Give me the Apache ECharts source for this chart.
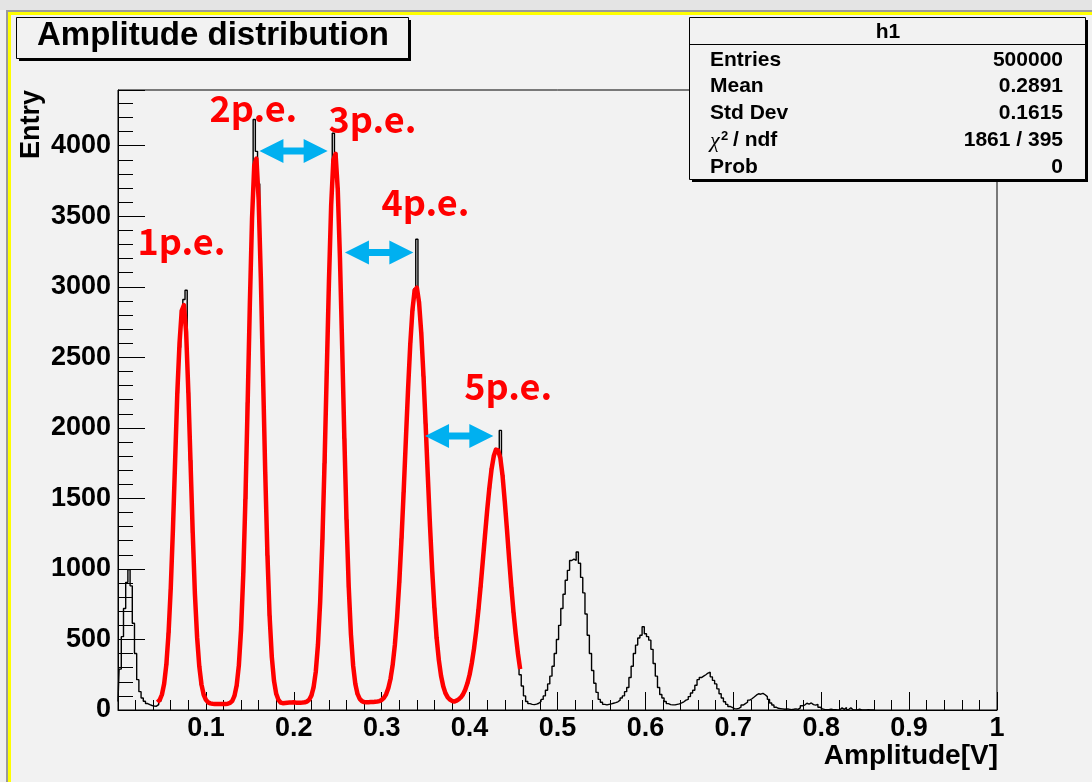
<!DOCTYPE html>
<html>
<head>
<meta charset="utf-8">
<script src="https://cdn.jsdelivr.net/npm/echarts@6/dist/echarts.min.js"></script>
<style>
  html, body { margin: 0; padding: 0; background: #f2f2f2; }
  #chart { width: 1092px; height: 782px; }
</style>
</head>
<body>
<div id="chart"></div>
<script>
// Histogram h1: counts per bin, bins of 0.0025 V starting at 0 V
const binWidth = 0.0025;
const entryCounts = [
  60, 290, 520, 720, 905, 995, 880, 615, 400, 215, 130, 85, 62, 46, 38, 32, 28, 27, 38, 62,
  105, 190, 318, 548, 858, 1290, 1760, 2245, 2570, 2840, 2910, 2975, 2250, 1770, 1255, 830, 510, 312, 176, 110,
  70, 55, 46, 44, 41, 43, 40, 44, 42, 45, 46, 52, 64, 104, 170, 322, 560, 968, 1495, 2180,
  2870, 3495, 4186, 3960, 3730, 3075, 2365, 1690, 1095, 668, 372, 210, 112, 74, 52, 48, 52, 50, 56, 52,
  58, 55, 54, 58, 53, 57, 62, 75, 100, 165, 268, 470, 760, 1205, 1750, 2405, 3035, 3580, 4088, 3950,
  3700, 3200, 2590, 1925, 1350, 868, 540, 312, 188, 112, 80, 62, 58, 54, 57, 55, 60, 57, 66, 64,
  72, 88, 110, 156, 218, 325, 460, 660, 900, 1215, 1545, 1925, 2270, 2600, 2830, 2985, 3337, 2900, 2680, 2365,
  2030, 1650, 1305, 980, 725, 505, 358, 240, 170, 118, 92, 72, 66, 58, 62, 72, 90, 110, 146, 186,
  252, 330, 436, 558, 712, 870, 1060, 1230, 1420, 1570, 1715, 1795, 1850, 1850, 1982, 1665, 1480, 1282, 1070, 872,
  690, 535, 400, 250, 170, 100, 60, 45, 40, 38, 42, 48, 60, 75, 100, 140, 185, 240, 310, 400,
  500, 600, 720, 820, 920, 990, 1060, 1070, 1060, 1120, 1040, 940, 830, 680, 530, 400, 280, 190, 125, 75,
  55, 40, 36, 40, 43, 48, 52, 58, 70, 85, 100, 130, 160, 230, 310, 400, 460, 510, 530, 590,
  540, 520, 495, 430, 330, 240, 160, 110, 85, 60, 45, 38, 36, 36, 40, 43, 50, 58, 70, 75,
  95, 120, 140, 175, 215, 230, 240, 250, 262, 268, 235, 210, 185, 150, 115, 85, 58, 40, 25, 18,
  10, 8, 12, 20, 35, 45, 55, 70, 80, 92, 105, 115, 112, 118, 108, 95, 75, 50, 35, 20,
  12, 10, 8, 5, 8, 5, 3, 5, 8, 4, 15, 30, 35, 48, 42, 50, 38, 35, 40, 20,
  8, 4, 3, 2, 5, 2, 3, 0, 2, 15, 4, 18, 3, 16, 2, 0, 0, 6, 0, 0,
  0, 3, 0, 0, 0
];

// Five-peak fit curve, sampled every 0.0025 V from 0.045 V to 0.4575 V
const fitStart = 0.045;
const fitCurve = [
  55, 72, 110, 186, 322, 543, 862, 1282, 1768, 2252, 2600, 2830, 2870, 2680, 2260, 1760, 1260, 822, 516, 308,
  180, 108, 72, 54, 47, 44, 43, 42, 42, 42, 42, 43, 45, 50, 65, 100, 174, 318, 568, 960,
  1503, 2173, 2878, 3485, 3861, 3909, 3618, 3065, 2373, 1685, 1100, 663, 375, 206, 115, 72, 53, 48, 50, 52,
  53, 54, 55, 52, 52, 52, 53, 55, 60, 73, 102, 160, 271, 464, 767, 1198, 1755, 2398, 3040, 3576,
  3900, 3942, 3692, 3206, 2582, 1930, 1343, 872, 536, 316, 185, 114, 79, 63, 56, 55, 55, 56, 56, 59,
  60, 63, 71, 86, 111, 154, 220, 320, 463, 657, 905, 1208, 1550, 1916, 2275, 2594, 2837, 2975, 2994, 2889,
  2673, 2373, 2021, 1654, 1300, 985, 720, 510, 354, 243, 168, 120, 91, 74, 65, 60, 66, 75, 89, 111,
  144, 189, 250, 332, 434, 560, 708, 874, 1054, 1237, 1416, 1576, 1708, 1800, 1846, 1841, 1785, 1660, 1480, 1280,
  1070, 870, 690, 535, 400, 290
];

// Photo-electron peak names and where they sit (amplitude, entries)
const peakLabels = ['1p.e.', '2p.e.', '3p.e.', '4p.e.', '5p.e.'];
const peakLabelAnchors = [[0.0722, 3319], [0.1540, 4264], [0.2895, 4188], [0.3498, 3599], [0.4440, 2294]];

// Peak-to-peak spacing arrows: [from amplitude, to amplitude, entries]
const spacingArrows = [[0.1609, 0.2385, 3962], [0.2582, 0.3360, 3243], [0.3493, 0.4270, 1942]];

// Statistics box
const statNames = ['Entries', 'Mean', 'Std Dev', '/ ndf', 'Prob'];
const statValues = ['500000', '0.2891', '0.1615', '1861 / 395', '0'];

const yMax = 4395;

const SANS = '"Liberation Sans", Arial, Helvetica, sans-serif';
const BG = '#f2f2f2';

const chart = echarts.init(document.getElementById('chart'), null, { renderer: 'canvas' });

const boldLabel = (size) => ({ fontFamily: SANS, fontWeight: 'bold', fontSize: size, color: '#000' });

// statistics box elements
const statY = [60, 86.7, 113.4, 140.1, 166.8];
const statElements = [];
statNames.forEach((name, i) => {
  const left = i === 3 ? 733 : 710;
  statElements.push({
    type: 'text', x: left, y: statY[i], z: 102,
    style: { text: name, font: 'bold 21px ' + SANS, fill: '#000', align: 'left', verticalAlign: 'middle' }
  });
  statElements.push({
    type: 'text', x: 1063, y: statY[i], z: 102,
    style: { text: statValues[i], font: 'bold 21px ' + SANS, fill: '#000', align: 'right', verticalAlign: 'middle' }
  });
});
statElements.push({
  type: 'text', x: 710, y: 141, z: 102,
  style: { text: 'χ', font: 'italic 22px "Liberation Serif", "DejaVu Serif", serif', fill: '#000', align: 'left', verticalAlign: 'middle' }
});
statElements.push({
  type: 'text', x: 721, y: 136, z: 102,
  style: { text: '2', font: 'bold 13px ' + SANS, fill: '#000', align: 'left', verticalAlign: 'middle' }
});

const option = {
  backgroundColor: BG,
  animation: false,
  grid: {
    left: 118, top: 90, width: 879, height: 620,
    show: true, borderColor: '#000', borderWidth: 1, backgroundColor: 'transparent',
    containLabel: false
  },
  xAxis: [
    {
      type: 'value', min: 0, max: 1, interval: 0.02, position: 'bottom',
      axisLine: { show: true, onZero: false, lineStyle: { color: '#000', width: 1 } },
      axisTick: { show: true, inside: true, length: 10, lineStyle: { color: '#000', width: 1 } },
      axisLabel: Object.assign({
        margin: 5,
        formatter: (v) => {
          const t = Math.round(v * 10);
          if (t === 0 || Math.abs(v * 10 - t) > 1e-6) return '';
          return String(t / 10);
        }
      }, boldLabel(27)),
      splitLine: { show: false }
    },
    {
      type: 'value', min: 0, max: 1, interval: 0.1, position: 'bottom',
      axisLine: { show: false, onZero: false },
      axisTick: { show: true, inside: true, length: 18, lineStyle: { color: '#000', width: 1 } },
      axisLabel: { show: false },
      splitLine: { show: false }
    }
  ],
  yAxis: [
    {
      type: 'value', min: 0, max: yMax, interval: 100, position: 'left',
      axisLine: { show: true, onZero: false, lineStyle: { color: '#000', width: 1 } },
      axisTick: { show: true, inside: true, length: 15, lineStyle: { color: '#000', width: 1 } },
      axisLabel: Object.assign({
        margin: 7,
        formatter: (v) => (Math.round(v) % 500 === 0 ? String(Math.round(v)) : '')
      }, boldLabel(27)),
      splitLine: { show: false }
    },
    {
      type: 'value', min: 0, max: yMax, interval: 500, position: 'left',
      axisLine: { show: false, onZero: false },
      axisTick: { show: true, inside: true, length: 27, lineStyle: { color: '#000', width: 1 } },
      axisLabel: { show: false },
      splitLine: { show: false }
    }
  ],
  series: [
    {
      name: 'h1', type: 'line', xAxisIndex: 0, yAxisIndex: 0,
      data: entryCounts.map((v, i) => [i * binWidth, v]),
      step: 'middle', symbol: 'none', showSymbol: false,
      lineStyle: { color: '#000', width: 1.4 },
      z: 2, silent: true
    },
    {
      name: 'fit', type: 'line', xAxisIndex: 0, yAxisIndex: 0,
      data: fitCurve.map((v, i) => [fitStart + i * binWidth, v]),
      symbol: 'none', showSymbol: false,
      lineStyle: { color: '#ff0000', width: 4.5, join: 'round' },
      z: 3, silent: true
    },
    {
      name: 'spacing', type: 'custom', xAxisIndex: 0, yAxisIndex: 0,
      data: spacingArrows,
      encode: { x: [0, 1], y: 2 },
      z: 5, silent: true,
      renderItem: (params, api) => {
        const a = api.coord([api.value(0), api.value(2)]);
        const b = api.coord([api.value(1), api.value(2)]);
        const y = a[1], x1 = a[0], x2 = b[0];
        const head = 24, half = 12, shaft = 3.5;
        return {
          type: 'polygon',
          shape: {
            points: [
              [x1, y], [x1 + head, y - half], [x1 + head, y - shaft], [x2 - head, y - shaft],
              [x2 - head, y - half], [x2, y], [x2 - head, y + half], [x2 - head, y + shaft],
              [x1 + head, y + shaft], [x1 + head, y + half]
            ]
          },
          style: { fill: '#00b0f0' }
        };
      }
    },
    {
      name: 'peaks', type: 'custom', xAxisIndex: 0, yAxisIndex: 0,
      data: peakLabelAnchors.map((p, i) => [p[0], p[1], i]),
      encode: { x: 0, y: 1 },
      z: 6, silent: true,
      renderItem: (params, api) => {
        const p = api.coord([api.value(0), api.value(1)]);
        return {
          type: 'text', x: p[0], y: p[1],
          style: {
            text: peakLabels[api.value(2)],
            font: 'bold 36px "Noto Sans CJK JP", "Noto Sans", sans-serif',
            fill: '#ff0000', align: 'center', verticalAlign: 'middle'
          }
        };
      }
    }
  ],
  graphic: {
    elements: [
      // canvas edge decorations
      { type: 'rect', shape: { x: 0, y: 0, width: 1092, height: 10 }, style: { fill: '#e4e4e4' }, z: 100, silent: true },
      { type: 'rect', shape: { x: 0, y: 10, width: 6, height: 772 }, style: { fill: '#efefef' }, z: 100, silent: true },
      { type: 'rect', shape: { x: 6, y: 10, width: 1086, height: 2 }, style: { fill: '#9a9a9a' }, z: 100, silent: true },
      { type: 'rect', shape: { x: 6, y: 10, width: 2, height: 772 }, style: { fill: '#9a9a9a' }, z: 100, silent: true },
      { type: 'rect', shape: { x: 8, y: 12, width: 1084, height: 3 }, style: { fill: '#ffff00' }, z: 100, silent: true },
      { type: 'rect', shape: { x: 8, y: 12, width: 3, height: 770 }, style: { fill: '#ffff00' }, z: 100, silent: true },

      // title box
      { type: 'rect', shape: { x: 19, y: 20, width: 392, height: 41 }, style: { fill: '#000' }, z: 100, silent: true },
      { type: 'rect', shape: { x: 16.5, y: 17.5, width: 392, height: 41 }, style: { fill: BG, stroke: '#000', lineWidth: 1 }, z: 101, silent: true },
      { type: 'text', x: 213, y: 35.5, z: 102, silent: true,
        style: { text: 'Amplitude distribution', font: 'bold 33px ' + SANS, fill: '#000', align: 'center', verticalAlign: 'middle' } },

      // statistics box
      { type: 'rect', shape: { x: 692, y: 20, width: 396, height: 162 }, style: { fill: '#000' }, z: 100, silent: true },
      { type: 'rect', shape: { x: 689.5, y: 17.5, width: 396, height: 162 }, style: { fill: BG, stroke: '#000', lineWidth: 1 }, z: 101, silent: true },
      { type: 'line', shape: { x1: 689.5, y1: 44.5, x2: 1085.5, y2: 44.5 }, style: { stroke: '#000', lineWidth: 1 }, z: 102, silent: true },
      { type: 'text', x: 888, y: 32.5, z: 102, silent: true,
        style: { text: 'h1', font: 'bold 21px ' + SANS, fill: '#000', align: 'center', verticalAlign: 'middle' } },
      ...statElements,

      // axis titles
      { type: 'text', x: 998, y: 756, z: 102, silent: true,
        style: { text: 'Amplitude[V]', font: 'bold 28px ' + SANS, fill: '#000', align: 'right', verticalAlign: 'middle' } },
      { type: 'text', x: 32, y: 90, rotation: Math.PI / 2, z: 102, silent: true,
        style: { text: 'Entry', font: 'bold 27px ' + SANS, fill: '#000', align: 'right', verticalAlign: 'middle' } }
    ]
  }
};

chart.setOption(option);
</script>
</body>
</html>
